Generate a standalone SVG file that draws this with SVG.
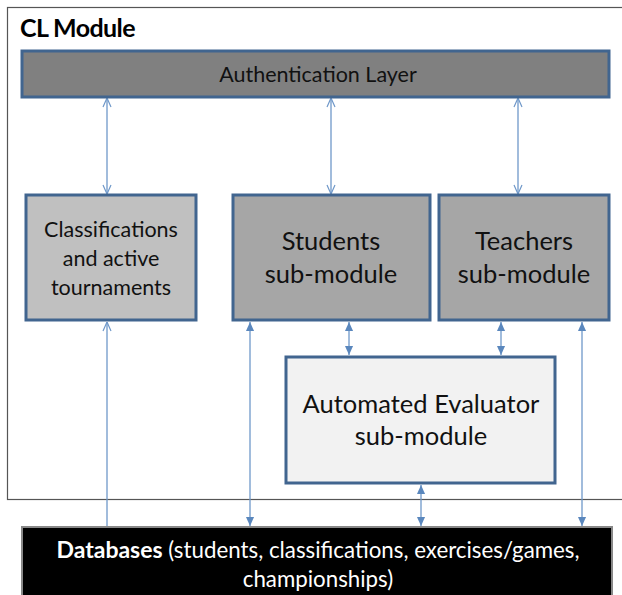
<svg xmlns="http://www.w3.org/2000/svg" width="622" height="595" viewBox="0 0 622 595">
  <style>
    .box { stroke: #41658f; stroke-width: 3; }
    .link { stroke: #6f98c9; stroke-width: 1.3; fill: none; }
    .lbl { font-family: Lato, "Open Sans", "Liberation Sans", sans-serif; text-anchor: middle; fill: #111; }
  </style>
  <defs>
    <marker id="open" viewBox="0 0 10 10" refX="10" refY="5" markerWidth="10" markerHeight="10" markerUnits="userSpaceOnUse" orient="auto-start-reverse">
      <path d="M1,1 L10,5 L1,9" fill="none" stroke="#6f98c9" stroke-width="1.2"/>
    </marker>
    <marker id="solid" viewBox="0 0 10 10" refX="10" refY="5" markerWidth="9" markerHeight="9" markerUnits="userSpaceOnUse" orient="auto-start-reverse">
      <path d="M0,0.5 L10,5 L0,9.5 Z" fill="#5a87bd"/>
    </marker>
  </defs>

  <rect width="622" height="595" fill="#fff"/>

  <!-- module frame -->
  <g id="cl-module">
    <rect x="7.5" y="7.5" width="625" height="492" fill="#fff" stroke="#555" stroke-width="1.2"/>
    <text x="20" y="37" font-family="Lato, 'Open Sans', 'Liberation Sans', sans-serif" font-size="25" font-weight="bold" fill="#000" letter-spacing="-0.6">CL Module</text>
  </g>

  <!-- connectors -->
  <g id="connectors">
    <line class="link" x1="107" y1="98" x2="107" y2="194" marker-start="url(#open)" marker-end="url(#open)"/>
    <line class="link" x1="331" y1="98" x2="331" y2="194" marker-start="url(#open)" marker-end="url(#open)"/>
    <line class="link" x1="518" y1="98" x2="518" y2="194" marker-start="url(#open)" marker-end="url(#open)"/>

    <line class="link" x1="107" y1="322" x2="107" y2="526" marker-start="url(#open)"/>
    <line class="link" x1="250" y1="322" x2="250" y2="526" marker-start="url(#solid)" marker-end="url(#solid)"/>
    <line class="link" x1="349" y1="322" x2="349" y2="355" marker-start="url(#solid)" marker-end="url(#solid)"/>
    <line class="link" x1="501" y1="322" x2="501" y2="355" marker-start="url(#solid)" marker-end="url(#solid)"/>
    <line class="link" x1="582" y1="322" x2="582" y2="526" marker-start="url(#solid)" marker-end="url(#solid)"/>
    <line class="link" x1="421" y1="485" x2="421" y2="526" marker-start="url(#solid)" marker-end="url(#solid)"/>
  </g>

  <g id="auth-layer">
    <rect class="box" x="22" y="51" width="587" height="46" fill="#808080"/>
    <text class="lbl" x="318" y="82" font-size="21.5">Authentication Layer</text>
  </g>

  <g id="classifications">
    <rect class="box" x="26" y="195" width="170" height="125" fill="#c0c0c0"/>
    <text class="lbl" x="111" y="237" font-size="21.5">Classifications</text>
    <text class="lbl" x="111" y="266" font-size="21.5">and active</text>
    <text class="lbl" x="111" y="295" font-size="21.5">tournaments</text>
  </g>

  <g id="students">
    <rect class="box" x="233" y="195" width="197" height="125" fill="#a6a6a6"/>
    <text class="lbl" x="331" y="250" font-size="25.5">Students</text>
    <text class="lbl" x="331" y="283" font-size="25.5">sub-module</text>
  </g>

  <g id="teachers">
    <rect class="box" x="439" y="195" width="170" height="125" fill="#a6a6a6"/>
    <text class="lbl" x="524" y="250" font-size="25.5">Teachers</text>
    <text class="lbl" x="524" y="283" font-size="25.5">sub-module</text>
  </g>

  <g id="evaluator">
    <rect class="box" x="286" y="357" width="269" height="126" fill="#f2f2f2"/>
    <text class="lbl" x="421" y="413" font-size="25.5">Automated Evaluator</text>
    <text class="lbl" x="421" y="445" font-size="25.5">sub-module</text>
  </g>

  <g id="databases">
    <rect x="22" y="527" width="590" height="75" fill="#000" stroke="#888" stroke-width="2"/>
    <text x="318" y="558" font-family="Lato, 'Open Sans', 'Liberation Sans', sans-serif" font-size="22.3" text-anchor="middle" fill="#fff"><tspan font-weight="bold" font-size="23">Databases</tspan> (students, classifications, exercises/games,</text>
    <text x="318" y="587" font-family="Lato, 'Open Sans', 'Liberation Sans', sans-serif" font-size="22.3" text-anchor="middle" fill="#fff">championships)</text>
  </g>
</svg>
